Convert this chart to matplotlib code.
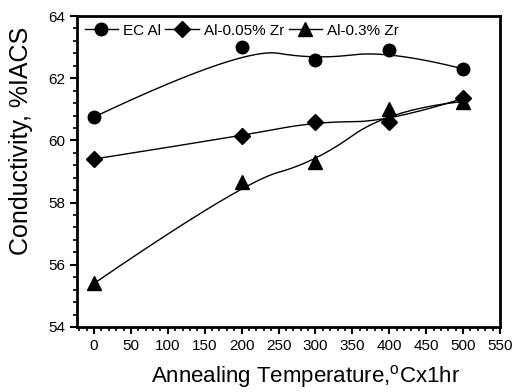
import numpy as np
import matplotlib
matplotlib.use("Agg")
import matplotlib.pyplot as plt
from matplotlib.ticker import MultipleLocator

plt.rcParams['font.family'] = ['Liberation Sans', 'DejaVu Sans']

temps = [0, 200, 300, 400, 500]
ec_al = [60.75, 63.0, 62.6, 62.9, 62.3]
al_005zr = [59.4, 60.15, 60.6, 60.6, 61.35]
al_03zr = [55.4, 58.65, 59.3, 61.0, 61.25]
labels = ["EC Al", "Al-0.05% Zr", "Al-0.3% Zr"]
markers = ["o", "D", "^"]


def bspline(xs, ys, n=300, k=2):
    P = np.column_stack([xs, ys]).astype(float)
    m = len(P)
    k = min(k, m - 1)
    inner = np.linspace(0, 1, m - k + 1)[1:-1]
    t = np.concatenate([np.zeros(k + 1), inner, np.ones(k + 1)])
    u = np.linspace(0, 1, n)
    u[-1] = 1 - 1e-9

    def N(i, p, uu):
        if p == 0:
            return ((t[i] <= uu) & (uu < t[i + 1])).astype(float)
        a = 0.0
        b = 0.0
        d1 = t[i + p] - t[i]
        d2 = t[i + p + 1] - t[i + 1]
        if d1 > 0:
            a = (uu - t[i]) / d1 * N(i, p - 1, uu)
        if d2 > 0:
            b = (t[i + p + 1] - uu) / d2 * N(i + 1, p - 1, uu)
        return a + b

    B = np.array([N(i, k, u) for i in range(m)])
    C = B.T @ P
    return C[:, 0], C[:, 1]


fig = plt.figure(figsize=(5.26, 3.92), dpi=100)
ax = fig.add_axes([77 / 526, 1 - 327 / 392, (500 - 77) / 526, (327 - 16) / 392])

for ys, lab, mk in zip([ec_al, al_005zr, al_03zr], labels, markers):
    cx, cy = bspline(temps, ys)
    ax.plot(cx, cy, color='black', lw=1.0)
    ms = 9 if mk == 'o' else (8 if mk == 'D' else 10)
    ax.plot(temps, ys, linestyle='none', marker=mk, color='black', ms=ms)
    ax.plot([], [], color='black', lw=1.0, marker=mk, ms=ms, label=lab)

ax.set_xlim(-23, 550)
ax.set_ylim(54, 64)
ax.xaxis.set_major_locator(MultipleLocator(50))
ax.xaxis.set_minor_locator(MultipleLocator(10))
ax.yaxis.set_major_locator(MultipleLocator(2))
ax.yaxis.set_minor_locator(MultipleLocator(0.4))
ax.tick_params(which='major', direction='out', length=5, width=1.5, labelsize=11)
ax.tick_params(which='minor', direction='out', length=3, width=1.2)
ax.tick_params(top=False, right=False)
for s in ax.spines.values():
    s.set_linewidth(2)

ax.set_xlabel("Annealing Temperature,$^{\\mathregular{o}}$Cx1hr", fontsize=16)
ax.set_ylabel("Conductivity, %IACS", fontsize=18)
ax.xaxis.set_label_coords(0.54, -0.115)
ax.yaxis.set_label_coords(-0.105, 0.60)

ax.legend(loc='upper left', ncol=3, frameon=False, fontsize=11,
          handlelength=2.2, handletextpad=0.3, columnspacing=0.3,
          borderaxespad=0.1, bbox_to_anchor=(0.0, 1.0))

fig.savefig("out.png", dpi=100)
